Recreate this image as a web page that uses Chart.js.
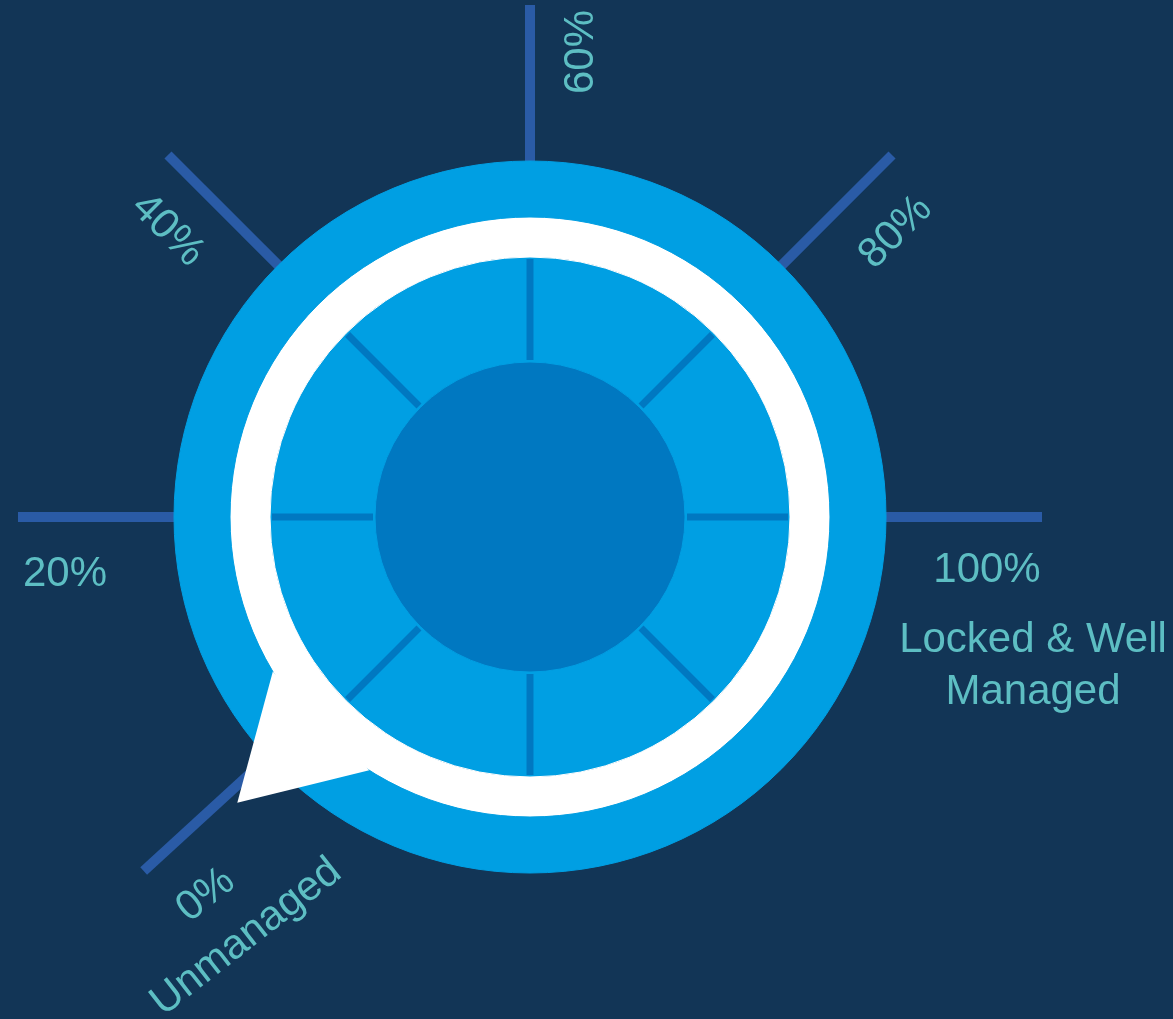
<!DOCTYPE html>
<html>
<head>
<meta charset="utf-8">
<script src="https://cdn.jsdelivr.net/npm/chart.js@4.4.0/dist/chart.umd.min.js"></script>
<style>
  html, body { margin: 0; padding: 0; background: #123556; }
  #wrap { width: 1173px; height: 1019px; }
</style>
</head>
<body>
<div id="wrap"><canvas id="myChart"></canvas></div>
<script>
// gauge scale and reading
var tickValues = [0, 20, 40, 60, 80, 100];
var tickLabels = ['0%', '20%', '40%', '60%', '80%', '100%'];
var lowCaption = ['Unmanaged'];
var highCaption = ['Locked & Well', 'Managed'];
var gaugeValue = [0];

// rings of the dial, outside to inside
var ringNames = ['Bezel', 'Track', 'Face', 'Hub'];
var ringFill = [1, 1, 1, 1];

var ringColors = ['#009fe3', '#ffffff', '#009fe3', '#0078c1'];
var ringWeights = [56, 40, 105, 155];
var spokeColor = '#2a5ba6';
var textColor = '#5dbec3';
var FONT = '42px "Liberation Sans", Arial, sans-serif';

// 0% sits lower left, 100% on the right, going clockwise over the top
var START = 135, SWEEP = 225;
function angleOf(v) { return (START + SWEEP * v / 100) * Math.PI / 180; }

// outer spokes: length, small tilt (deg)
var spokePlace = [[524, 2.5], [512, 0], [512, 0], [512, 0], [512, 0], [512, 0]];
// tick labels: distance along spoke, offset below text, extra tilt (deg)
var labelPlace = [[492, 35, 7], [465, 54, 0], [459, 50, 0], [465, 48, 0], [460, 54, 0], [457, 50, 0]];

function textRot(a) {
    var r = Math.atan2(Math.sin(a), Math.cos(a));
    if (r > Math.PI / 2 + 1e-6) r -= Math.PI;
    if (r < -Math.PI / 2 - 1e-6) r += Math.PI;
    return r;
}

var gaugePlugin = {
    id: 'gauge',
    beforeDatasetsDraw: function(chart) {
        var arc = chart.getDatasetMeta(0).data[0];
        var ctx = chart.ctx;
        ctx.save();
        ctx.strokeStyle = spokeColor;
        ctx.lineWidth = 10;
        ctx.lineCap = 'butt';
        tickValues.forEach(function(v, i) {
            var a = angleOf(v) + spokePlace[i][1] * Math.PI / 180;
            var r0 = arc.outerRadius - 10, r1 = spokePlace[i][0];
            ctx.beginPath();
            ctx.moveTo(arc.x + r0 * Math.cos(a), arc.y + r0 * Math.sin(a));
            ctx.lineTo(arc.x + r1 * Math.cos(a), arc.y + r1 * Math.sin(a));
            ctx.stroke();
        });
        ctx.restore();
    },
    afterDatasetsDraw: function(chart) {
        var ctx = chart.ctx;
        var track = chart.getDatasetMeta(1).data[0];
        var face = chart.getDatasetMeta(2).data[0];
        var cx = face.x, cy = face.y;
        ctx.save();

        // spokes on the face
        ctx.strokeStyle = ringColors[3];
        ctx.lineWidth = 7;
        for (var k = 0; k < 8; k++) {
            var b = k * Math.PI / 4;
            ctx.beginPath();
            ctx.moveTo(cx + (face.innerRadius + 2) * Math.cos(b), cy + (face.innerRadius + 2) * Math.sin(b));
            ctx.lineTo(cx + (face.outerRadius - 2) * Math.cos(b), cy + (face.outerRadius - 2) * Math.sin(b));
            ctx.stroke();
        }

        // pointer tail on the white track
        var a0 = angleOf(gaugeValue[0]) + 0.7 * Math.PI / 180;
        var half = 13.3 * Math.PI / 180;
        var rb = track.outerRadius;
        ctx.fillStyle = ringColors[1];
        ctx.beginPath();
        ctx.moveTo(cx + rb * Math.cos(a0 - half), cy + rb * Math.sin(a0 - half));
        ctx.lineTo(cx + 409 * Math.cos(a0), cy + 409 * Math.sin(a0));
        ctx.lineTo(cx + rb * Math.cos(a0 + half), cy + rb * Math.sin(a0 + half));
        ctx.closePath();
        ctx.fill();

        // tick labels
        ctx.font = FONT;
        ctx.fillStyle = textColor;
        ctx.textAlign = 'center';
        ctx.textBaseline = 'alphabetic';
        var capH = 30;
        tickValues.forEach(function(v, i) {
            var a = angleOf(v);
            var p = labelPlace[i];
            var rot = textRot(a) + p[2] * Math.PI / 180;
            var x = cx + p[0] * Math.cos(a) - p[1] * Math.sin(rot);
            var y = cy + p[0] * Math.sin(a) + p[1] * Math.cos(rot);
            ctx.save();
            ctx.translate(x, y);
            ctx.rotate(rot);
            ctx.fillText(tickLabels[i], 0, capH / 2);
            if (i === 0) {
                lowCaption.forEach(function(t, j) { ctx.fillText(t, 6, capH / 2 + 58 * (j + 1)); });
            }
            if (i === tickValues.length - 1) {
                highCaption.forEach(function(t, j) { ctx.fillText(t, 46, capH / 2 + 70 + 52 * j); });
            }
            ctx.restore();
        });
        ctx.restore();
    }
};

var ctx = document.getElementById('myChart').getContext('2d');
var myChart = new Chart(ctx, {
    type: 'doughnut',
    data: {
        labels: ['dial'],
        datasets: ringNames.map(function(name, i) {
            return {
                label: name,
                data: [ringFill[i]],
                backgroundColor: ringColors[i],
                borderColor: ringColors[i],
                borderWidth: 1,
                hoverOffset: 0,
                weight: ringWeights[i]
            };
        })
    },
    options: {
        responsive: true,
        maintainAspectRatio: false,
        animation: false,
        events: [],
        cutout: 0,
        radius: 356,
        layout: { padding: { left: 0, right: 113, top: 161, bottom: 146 } },
        plugins: {
            legend: { display: false },
            tooltip: { enabled: false }
        }
    },
    plugins: [gaugePlugin]
});
</script>
</body>
</html>
